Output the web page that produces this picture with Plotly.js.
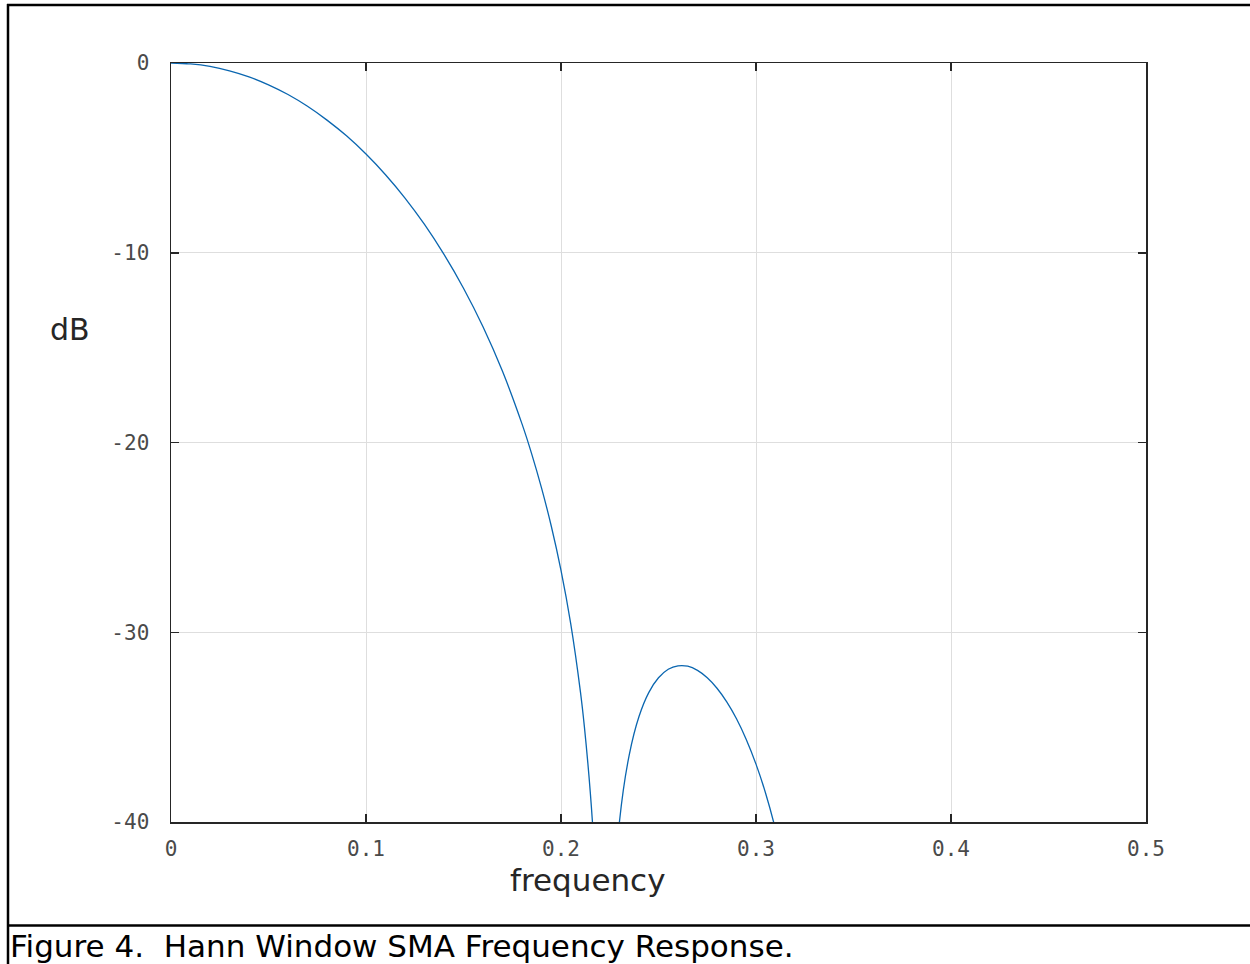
<!DOCTYPE html>
<html>
<head>
<meta charset="utf-8">
<script src="https://cdn.plot.ly/plotly-3.0.1.min.js"></script>
<style>
  html, body { margin: 0; padding: 0; background: #ffffff; }
  #chart { width: 1250px; height: 964px; }
</style>
</head>
<body>
<div id="chart"></div>
<script>
// Frequency (cycles/sample)
const frequency = [0, 0.01, 0.02, 0.03, 0.04, 0.05, 0.06, 0.07, 0.08, 0.09, 0.10,
  0.11, 0.12, 0.13, 0.14, 0.15, 0.16, 0.17, 0.18, 0.185, 0.19, 0.195, 0.20, 0.205,
  0.21, 0.212, 0.215, 0.217, 0.22, 0.225, 0.23, 0.235, 0.24, 0.245, 0.25, 0.255,
  0.26, 0.265, 0.27, 0.275, 0.28, 0.285, 0.29, 0.295, 0.30, 0.305, 0.31, 0.315, 0.32];
// Response in dB (values below -40 fall outside the drawn window)
const responseDb = [0, -0.05, -0.18, -0.41, -0.73, -1.15, -1.66, -2.28, -3.01, -3.84, -4.80,
  -5.89, -7.12, -8.51, -10.09, -11.87, -13.90, -16.25, -19.02, -20.61, -22.39, -24.40, -26.74, -29.56,
  -33.17, -34.99, -38.41, -41.50, -49.35, -48.14, -39.97, -36.46, -34.44, -33.18, -32.40, -31.95,
  -31.77, -31.79, -32.01, -32.40, -32.95, -33.67, -34.56, -35.65, -36.95, -38.51, -40.40, -42.77, -45.86];

const xTickVals = [0, 0.1, 0.2, 0.3, 0.4, 0.5];
const xTickText = ['0', '0.1', '0.2', '0.3', '0.4', '0.5'];
const yTickVals = [-40, -30, -20, -10, 0];
const yTickText = ['-40', '-30', '-20', '-10', '0'];

const xLabel = 'frequency';
const yLabel = 'dB';
const caption = 'Figure 4.  Hann Window SMA Frequency Response.';

// Plot box in pixels
const W = 1250, H = 964;
const L = 171, R = 1146, T = 63, B = 822;
const px = x => (x - L) / (R - L);
const py = y => (B - y) / (B - T);

const axisColor = '#262626';
const tickFont = { family: 'DejaVu Sans Mono, monospace', size: 21, color: '#4a4a4a' };

const trace = {
  x: frequency,
  y: responseDb,
  type: 'scatter',
  mode: 'lines',
  line: { color: '#0a66b0', width: 1.3, shape: 'spline', smoothing: 1 },
  hoverinfo: 'x+y'
};

const frameLine = { color: '#000000', width: 2.5 };

const layout = {
  width: W,
  height: H,
  margin: { l: L, r: W - R, t: T, b: H - B, pad: 0 },
  paper_bgcolor: '#ffffff',
  plot_bgcolor: '#ffffff',
  showlegend: false,
  xaxis: {
    range: [0, 0.5],
    tickvals: xTickVals,
    ticktext: xTickText,
    tickfont: tickFont,
    ticks: 'inside',
    ticklen: 8,
    tickwidth: 1.5,
    tickcolor: axisColor,
    showline: true,
    linecolor: axisColor,
    linewidth: 1.5,
    mirror: 'ticks',
    showgrid: true,
    gridcolor: '#dedede',
    gridwidth: 1,
    zeroline: false,
    ticklabelstandoff: 7
  },
  yaxis: {
    range: [-40, 0],
    tickvals: yTickVals,
    ticktext: yTickText,
    tickfont: tickFont,
    ticks: 'inside',
    ticklen: 8,
    tickwidth: 1.5,
    tickcolor: axisColor,
    showline: true,
    linecolor: axisColor,
    linewidth: 1.5,
    mirror: 'ticks',
    showgrid: true,
    gridcolor: '#dedede',
    gridwidth: 1,
    zeroline: false,
    ticklabelstandoff: 16
  },
  annotations: [
    {
      text: yLabel, xref: 'paper', yref: 'paper',
      x: px(70), y: py(329), xanchor: 'center', yanchor: 'middle',
      showarrow: false,
      font: { family: 'DejaVu Sans, sans-serif', size: 30, color: '#262626' }
    },
    {
      text: xLabel, xref: 'paper', yref: 'paper',
      x: px(587), y: py(880), xanchor: 'center', yanchor: 'middle',
      showarrow: false,
      font: { family: 'DejaVu Sans, sans-serif', size: 31, color: '#262626' }
    },
    {
      text: caption, xref: 'paper', yref: 'paper',
      x: px(8), y: py(946), xanchor: 'left', yanchor: 'middle',
      showarrow: false,
      font: { family: 'DejaVu Sans, sans-serif', size: 31, color: '#000000' }
    }
  ],
  shapes: [
    { type: 'line', xref: 'paper', yref: 'paper', x0: px(7), x1: px(1250), y0: py(5), y1: py(5), line: frameLine },
    { type: 'line', xref: 'paper', yref: 'paper', x0: px(8), x1: px(8), y0: py(4), y1: py(964), line: frameLine },
    { type: 'line', xref: 'paper', yref: 'paper', x0: px(7), x1: px(1250), y0: py(925.5), y1: py(925.5), line: frameLine }
  ]
};

Plotly.newPlot('chart', [trace], layout, { displayModeBar: false, staticPlot: true });
</script>
</body>
</html>
